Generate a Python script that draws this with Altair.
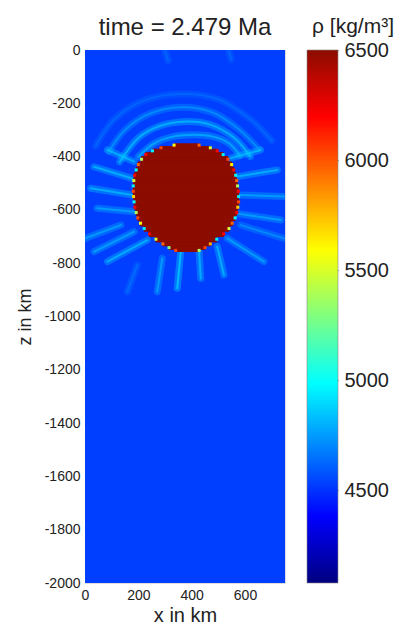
import altair as alt
import pandas as pd

# ---------------- data ----------------
title_text = "time = 2.479 Ma"
cbar_title = "ρ [kg/m³]"
x_ticks = [0, 200, 400, 600]
z_ticks = [0, -200, -400, -600, -800, -1000, -1200, -1400, -1600, -1800, -2000]
cbar_ticks = [4500, 5000, 5500, 6000, 6500]

# colour map (jet) stops over the density range
rho_range = [4080, 6500]
jet_values = [4080, 4382.5, 4685, 4987.5, 5290, 5592.5, 5895, 6197.5, 6500]
jet_colors = ["#000080", "#0000ff", "#0080ff", "#00ffff", "#80ff80",
              "#ffff00", "#ff8000", "#ff0000", "#8c0c00"]

# background mantle density
bg_rho = 4470
domain_x = [0, 750]
domain_z = [0, -2000]

# dense sphere: row edges (z, km) and left/right x extents per row
sphere_rho = 6500
sphere_z_edges = [-352, -362, -372, -385, -400, -420, -440, -460, -480, -500, -520,
                  -540, -560, -580, -600, -620, -640, -660, -680, -700, -720, -735,
                  -748, -756]
sphere_x_left = [334, 285, 253, 228, 212, 200, 192, 186, 183, 181, 181, 182, 184,
                 187, 192, 198, 208, 222, 242, 266, 292, 315, 340]
sphere_x_right = [428, 470, 496, 518, 536, 550, 558, 565, 569, 572, 575, 576, 576,
                  573, 569, 563, 552, 540, 520, 494, 470, 450, 428]
# speckled values along the sphere rim
rim_left_rho = [5600, 6100, 4950, 6200, 5400, 6000, 5000, 6200, 5500, 4950, 6100,
                5700, 5000, 6200, 5400, 6100, 5600, 4950, 6200, 5500, 6000, 5300, 6100]
rim_right_rho = [6000, 5500, 6200, 4950, 6100, 5600, 6200, 5000, 6000, 5400, 6200,
                 4950, 6100, 5700, 6200, 5000, 6000, 5500, 6200, 4950, 5800, 6100, 5400]

# low-contrast streaks around the sphere (polylines, km) and their density
streak_x = [
    [200, 260, 330, 410, 480, 540, 580],
    [130, 200, 280, 380, 470, 560, 620],
    [90, 150, 240, 360, 480, 580, 650],
    [40, 110, 220, 360, 500, 620, 700],
    [184, 84], [177, 34], [177, 21], [184, 46],
    [546, 659], [571, 721], [577, 746], [565, 734],
    [359, 346], [428, 434], [290, 271], [496, 521], [234, 84], [184, 34],
    [134, 0], [534, 671], [584, 746], [196, 159],
    [300, 312], [540, 548],
]
streak_z = [
    [-400, -350, -325, -318, -325, -350, -395],
    [-420, -330, -285, -268, -280, -330, -400],
    [-380, -300, -240, -215, -235, -300, -370],
    [-360, -260, -190, -165, -185, -260, -340],
    [-419, -375], [-482, -438], [-544, -519], [-607, -594],
    [-406, -375], [-475, -450], [-544, -550], [-613, -638],
    [-757, -894], [-757, -857], [-782, -907], [-738, -844], [-713, -794], [-682, -757],
    [-657, -707], [-707, -794], [-657, -707], [-807, -907],
    [-4, -40], [-4, -35],
]
streak_rho = [4820, 4850, 4750, 4620,
              4850, 4850, 4850, 4800,
              4850, 4850, 4800, 4800,
              4900, 4850, 4800, 4850, 4850, 4800,
              4800, 4800, 4750, 4650,
              4620, 4620]

# ---------------- tables ----------------
bg_df = pd.DataFrame({"x": [domain_x[0]], "x2": [domain_x[1]],
                      "z": [domain_z[0]], "z2": [domain_z[1]], "v": [bg_rho]})

rows = []
for i in range(len(sphere_x_left)):
    rows.append({"x": sphere_x_left[i], "x2": sphere_x_right[i],
                 "z": sphere_z_edges[i], "z2": sphere_z_edges[i + 1], "v": sphere_rho})
sphere_df = pd.DataFrame(rows)

rim = []
for i in range(len(sphere_x_left)):
    zm = (sphere_z_edges[i] + sphere_z_edges[i + 1]) / 2
    rim.append({"x": sphere_x_left[i], "z": zm, "v": rim_left_rho[i]})
    rim.append({"x": sphere_x_right[i], "z": zm, "v": rim_right_rho[i]})
rim_df = pd.DataFrame(rim)

pts = []
for k, (xs_, zs_) in enumerate(zip(streak_x, streak_z)):
    for j, (xx, zz) in enumerate(zip(xs_, zs_)):
        pts.append({"id": k, "o": j, "x": xx, "z": zz, "v": streak_rho[k]})
streak_df = pd.DataFrame(pts)

cbar_df = pd.DataFrame({"lo": [rho_range[0]], "hi": [rho_range[1]]})

# ---------------- encodings ----------------
FONT = "Liberation Sans"
jet = alt.Scale(domain=jet_values, range=jet_colors, type="linear")
color = alt.Color("v:Q", scale=jet, legend=None)
stroke = alt.Stroke("v:Q", scale=jet, legend=None)

xs = alt.Scale(domain=domain_x, nice=False, zero=False)
zs = alt.Scale(domain=[domain_z[1], domain_z[0]], nice=False, zero=False)

x_axis = alt.Axis(values=x_ticks, title="x in km", titleFontSize=20, titleFont=FONT,
                  titleFontWeight="normal", titleColor="#222", titlePadding=3,
                  labelFontSize=14, labelFont=FONT, labelColor="#222",
                  ticks=False, domain=False, grid=False, labelPadding=5,
                  labelFlush=False)
z_axis = alt.Axis(values=z_ticks, title="z in km", titleFontSize=18, titleFont=FONT,
                  titleFontWeight="normal", titleColor="#222", titlePadding=10,
                  labelFontSize=14, labelFont=FONT, labelColor="#222",
                  ticks=False, domain=False, grid=False, labelPadding=5,
                  labelExpr="'' + datum.value", labelFlush=False)

bg = alt.Chart(bg_df).mark_rect().encode(
    x=alt.X("x:Q", scale=xs, axis=x_axis), x2="x2:Q",
    y=alt.Y("z:Q", scale=zs, axis=z_axis), y2="z2:Q",
    color=color)

streak_wide = alt.Chart(streak_df).mark_line(
    strokeWidth=7, opacity=0.35, interpolate="cardinal", strokeCap="round", clip=True
).encode(x="x:Q", y="z:Q", detail="id:N", order="o:Q", color=color)

streak_core = alt.Chart(streak_df).mark_line(
    strokeWidth=2, opacity=0.65, interpolate="cardinal", strokeCap="round", clip=True
).encode(x="x:Q", y="z:Q", detail="id:N", order="o:Q", color=color)

sphere = alt.Chart(sphere_df).mark_rect(strokeWidth=1).encode(
    x="x:Q", x2="x2:Q", y="z:Q", y2="z2:Q", color=color, stroke=stroke)

rim_pts = alt.Chart(rim_df).mark_square(size=9, opacity=1).encode(
    x="x:Q", y="z:Q", color=color)

texts = alt.Chart(pd.DataFrame({"t": [title_text, cbar_title],
                                "px": [100, 268], "py": [-15, -17],
                                "fs": [24, 21]})).mark_text(
    font=FONT, color="#222", align="center", baseline="alphabetic"
).encode(text="t:N", x=alt.X("px:Q", scale=None), y=alt.Y("py:Q", scale=None),
         size=alt.Size("fs:Q", scale=None, legend=None))

main = alt.layer(bg, streak_wide, streak_core, sphere, rim_pts, texts)

# colour bar: a rect filled with the jet gradient, on its own value axis
jet_gradient = alt.LinearGradient(
    gradient="linear", x1=0, x2=0, y1=1, y2=0,
    stops=[alt.GradientStop(color=c, offset=(v - rho_range[0]) / (rho_range[1] - rho_range[0]))
           for v, c in zip(jet_values, jet_colors)])

cbar_axis = alt.Axis(orient="right", offset=49, values=cbar_ticks, title=None,
                     labelFontSize=20, labelFont=FONT, labelColor="#222",
                     tickSize=4, tickColor="#444", tickWidth=1, domain=False,
                     grid=False, labelPadding=6, labelFlush=False, labelOverlap=False,
                     labelBound=False, format="d")

cbar = alt.Chart(cbar_df).mark_rect(fill=jet_gradient, stroke="#888",
                                    strokeWidth=0.6).encode(
    x=alt.value(222), x2=alt.value(253),
    y=alt.Y("lo:Q", scale=alt.Scale(domain=rho_range, nice=False, zero=False),
            axis=cbar_axis),
    y2="hi:Q")

chart = alt.layer(main, cbar).resolve_scale(y="independent").properties(
    width=200, height=533,
    autosize=alt.AutoSizeParams(type="none"),
    padding={"left": 77, "top": 42, "right": 110, "bottom": 50},
).configure_view(stroke="#bbb", strokeWidth=1).configure(background="white")

chart.save("out.html", embed_options={"renderer": "svg", "actions": False})
